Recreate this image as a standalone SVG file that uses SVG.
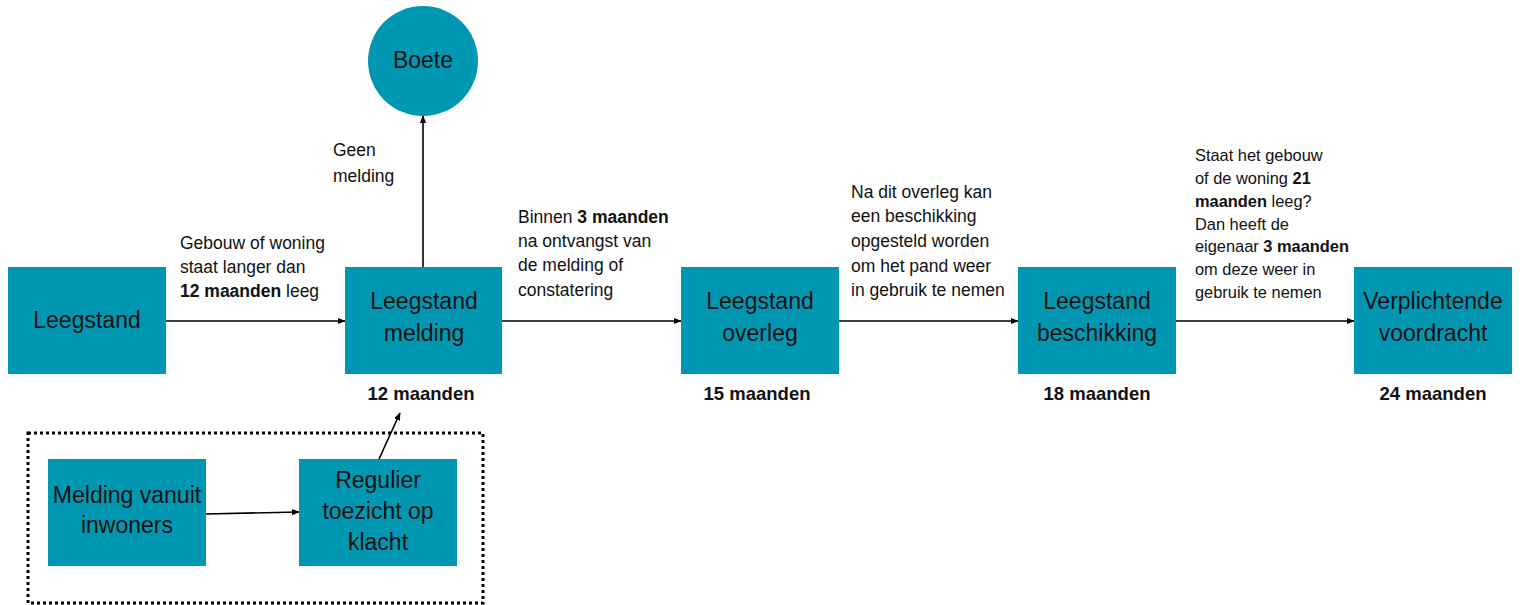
<svg xmlns="http://www.w3.org/2000/svg" width="1520" height="605" viewBox="0 0 1520 605">
<defs>
<style>
.box{fill:#0097b2;}
.bt{font-family:"Liberation Sans",Arial,sans-serif;font-size:23px;fill:#111;text-anchor:middle;}
.lb{font-family:"Liberation Sans",Arial,sans-serif;font-size:17.5px;fill:#111;}
.sm{font-size:16.4px;}
.mo{font-family:"Liberation Sans",Arial,sans-serif;font-size:18.5px;font-weight:bold;fill:#111;text-anchor:middle;}
.b{font-weight:bold;}
.conn{stroke:#000;stroke-width:1.6;fill:none;marker-end:url(#ah);}
</style>
<marker id="ah" viewBox="0 0 10 10" refX="9" refY="5" markerWidth="5" markerHeight="5" orient="auto">
<path d="M0,1 L10,5 L0,9 Z" fill="#000"/>
</marker>
</defs>
<rect width="1520" height="605" fill="#fff"/>
<rect x="28" y="433" width="455" height="170" fill="none" stroke="#000" stroke-width="3" stroke-dasharray="3,3"/>
<g id="connectors">
<line class="conn" x1="166" y1="321" x2="345" y2="321"/>
<line class="conn" x1="502" y1="321" x2="681" y2="321"/>
<line class="conn" x1="839" y1="321" x2="1018" y2="321"/>
<line class="conn" x1="1176" y1="321" x2="1354" y2="321"/>
<line class="conn" x1="423" y1="267" x2="423" y2="116"/>
<line class="conn" x1="206" y1="514" x2="299" y2="512"/>
<line class="conn" x1="379" y1="459" x2="400" y2="413"/>
</g>
<g id="labels">
<text class="lb" x="180" y="249">Gebouw of woning</text>
<text class="lb" x="180" y="273">staat langer dan</text>
<text class="lb" x="180" y="297"><tspan class="b">12 maanden</tspan> leeg</text>
<text class="lb" x="333" y="156">Geen</text>
<text class="lb" x="333" y="182">melding</text>
<text class="lb" x="518" y="223">Binnen <tspan class="b">3 maanden</tspan></text>
<text class="lb" x="518" y="247">na ontvangst van</text>
<text class="lb" x="518" y="271">de melding of</text>
<text class="lb" x="518" y="296">constatering</text>
<text class="lb" x="851" y="198">Na dit overleg kan</text>
<text class="lb" x="851" y="222">een beschikking</text>
<text class="lb" x="851" y="247">opgesteld worden</text>
<text class="lb" x="851" y="272">om het pand weer</text>
<text class="lb" x="851" y="296">in gebruik te nemen</text>
<text class="lb sm" x="1195" y="161">Staat het gebouw</text>
<text class="lb sm" x="1195" y="184">of de woning <tspan class="b">21</tspan></text>
<text class="lb sm" x="1195" y="207"><tspan class="b">maanden</tspan> leeg?</text>
<text class="lb sm" x="1195" y="230">Dan heeft de</text>
<text class="lb sm" x="1195" y="252">eigenaar <tspan class="b">3 maanden</tspan></text>
<text class="lb sm" x="1195" y="275">om deze weer in</text>
<text class="lb sm" x="1195" y="298">gebruik te nemen</text>
<text class="mo" x="421" y="400">12 maanden</text>
<text class="mo" x="757" y="400">15 maanden</text>
<text class="mo" x="1097" y="400">18 maanden</text>
<text class="mo" x="1433" y="400">24 maanden</text>
</g>
<g id="boete"><circle class="box" cx="423" cy="61" r="55"/><text class="bt" x="423" y="68">Boete</text></g>
<g id="leegstand"><rect class="box" x="8" y="267" width="158" height="107"/><text class="bt" x="87" y="328">Leegstand</text></g>
<g id="melding"><rect class="box" x="345" y="267" width="157" height="107"/><text class="bt" x="424" y="309">Leegstand</text><text class="bt" x="424" y="341">melding</text></g>
<g id="overleg"><rect class="box" x="681" y="267" width="158" height="107"/><text class="bt" x="760" y="309">Leegstand</text><text class="bt" x="760" y="341">overleg</text></g>
<g id="beschikking"><rect class="box" x="1018" y="267" width="158" height="107"/><text class="bt" x="1097" y="309">Leegstand</text><text class="bt" x="1097" y="341">beschikking</text></g>
<g id="voordracht"><rect class="box" x="1354" y="267" width="158" height="107"/><text class="bt" x="1433" y="309">Verplichtende</text><text class="bt" x="1433" y="341">voordracht</text></g>
<g id="inwoners"><rect class="box" x="48" y="459" width="158" height="107"/><text class="bt" x="127" y="503">Melding vanuit</text><text class="bt" x="127" y="533">inwoners</text></g>
<g id="regulier"><rect class="box" x="299" y="459" width="158" height="107"/><text class="bt" x="378" y="488">Regulier</text><text class="bt" x="378" y="519">toezicht op</text><text class="bt" x="378" y="550">klacht</text></g>
</svg>
